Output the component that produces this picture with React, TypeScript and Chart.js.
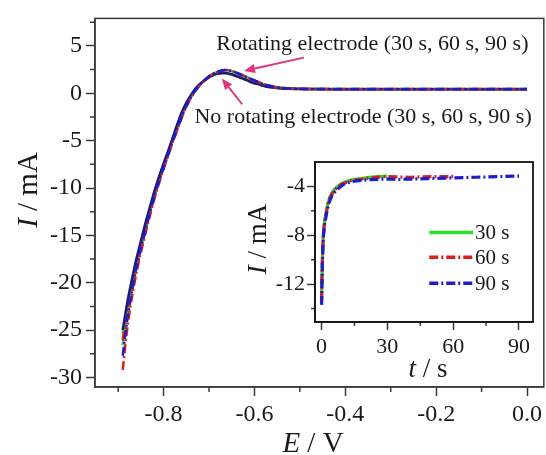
import React, { useEffect, useRef } from 'react';
import { Chart, registerables } from 'chart.js';

Chart.register(...registerables);

// ---- Main sweep: potential (V) vs current (mA) ----
const POTENTIAL = [
  -0.89, -0.88, -0.87, -0.86, -0.85, -0.84, -0.83, -0.82, -0.81, -0.8,
  -0.79, -0.78, -0.77, -0.76, -0.75, -0.74, -0.73, -0.72, -0.71, -0.7,
  -0.69, -0.68, -0.67, -0.66, -0.65, -0.64, -0.63, -0.62, -0.61, -0.6,
  -0.58, -0.56, -0.54, -0.52, -0.5, -0.45, -0.4, -0.3, -0.2, -0.1, 0.0,
];

// no rotation
const STILL_30 = [
  -25.4, -22.4, -19.9, -17.7, -15.8, -13.9, -12.1, -10.4, -8.9, -7.5,
  -6.2, -4.8, -3.4, -2.1, -1.1, -0.25, 0.42, 0.95, 1.35, 1.68,
  1.92, 2.08, 2.14, 2.1, 1.98, 1.82, 1.63, 1.43, 1.23, 1.06, 0.78, 0.6,
  0.5, 0.46, 0.44, 0.43, 0.42, 0.42, 0.42, 0.42, 0.42,
];
const STILL_60 = [
  -26.1, -22.8, -20.2, -17.9, -16.0, -14.1, -12.3, -10.6, -9.0, -7.6,
  -6.3, -4.9, -3.5, -2.2, -1.15, -0.3, 0.38, 0.92, 1.33, 1.66,
  1.9, 2.06, 2.12, 2.08, 1.96, 1.8, 1.61, 1.41, 1.21, 1.04, 0.77, 0.6,
  0.5, 0.46, 0.44, 0.43, 0.42, 0.42, 0.42, 0.42, 0.42,
];
const STILL_90 = [
  -25.0, -22.1, -19.7, -17.5, -15.6, -13.7, -12.0, -10.3, -8.8, -7.4,
  -6.1, -4.7, -3.3, -2.0, -1.0, -0.2, 0.46, 0.98, 1.38, 1.7,
  1.94, 2.1, 2.16, 2.12, 2.0, 1.84, 1.65, 1.45, 1.25, 1.08, 0.8, 0.62,
  0.51, 0.47, 0.45, 0.44, 0.43, 0.43, 0.43, 0.43, 0.43,
];

// with rotation
const ROT_30 = [
  -26.6, -23.4, -20.7, -18.3, -16.3, -14.4, -12.5, -10.8, -9.2, -7.8,
  -6.4, -5.0, -3.7, -2.4, -1.3, -0.4, 0.3, 0.88, 1.38, 1.78,
  2.07, 2.27, 2.4, 2.42, 2.33, 2.16, 1.96, 1.76, 1.54, 1.34, 0.96, 0.71,
  0.57, 0.5, 0.47, 0.45, 0.44, 0.44, 0.44, 0.44, 0.44,
];
const ROT_60 = [
  -29.2, -24.8, -21.6, -19.0, -16.8, -14.8, -12.9, -11.1, -9.5, -8.0,
  -6.6, -5.2, -3.9, -2.6, -1.45, -0.5, 0.25, 0.85, 1.35, 1.76,
  2.06, 2.28, 2.42, 2.46, 2.36, 2.18, 1.98, 1.78, 1.56, 1.36, 0.98, 0.72,
  0.58, 0.5, 0.47, 0.45, 0.44, 0.44, 0.44, 0.44, 0.44,
];
const ROT_90 = [
  -27.7, -23.9, -21.0, -18.5, -16.4, -14.5, -12.6, -10.9, -9.3, -7.9,
  -6.5, -5.1, -3.8, -2.5, -1.35, -0.45, 0.28, 0.88, 1.38, 1.79,
  2.09, 2.3, 2.43, 2.44, 2.34, 2.17, 1.97, 1.77, 1.55, 1.35, 0.97, 0.71,
  0.57, 0.5, 0.47, 0.45, 0.44, 0.44, 0.44, 0.44, 0.44,
];

const MAIN_X_TICKS = [-0.8, -0.6, -0.4, -0.2, 0.0];
const MAIN_X_MINOR = [-0.9, -0.7, -0.5, -0.3, -0.1];
const MAIN_Y_TICKS = [-30, -25, -20, -15, -10, -5, 0, 5];
const MAIN_Y_MINOR = [-27.5, -22.5, -17.5, -12.5, -7.5, -2.5, 2.5, 7.5];

// ---- Inset: chronoamperometry, time (s) vs current (mA) ----
const TIME_30 = [0, 0.3, 0.7, 1.2, 2, 3, 4.5, 6, 8, 10, 13, 16, 20, 25, 30];
const CURRENT_30 = [-13.3, -10.5, -8.3, -7.1, -6.2, -5.3, -4.6, -4.2, -3.9, -3.7, -3.5, -3.4, -3.3, -3.2, -3.15];
const TIME_60 = [0, 0.3, 0.7, 1.2, 2, 3, 4.5, 6, 8, 10, 13, 16, 20, 25, 30, 35, 40, 45, 50, 55, 60];
const CURRENT_60 = [-13.4, -10.6, -8.4, -7.2, -6.3, -5.4, -4.7, -4.3, -3.95, -3.75, -3.55, -3.45, -3.35, -3.25, -3.2, -3.22, -3.25, -3.22, -3.2, -3.2, -3.18];
const TIME_90 = [0, 0.3, 0.7, 1.2, 2, 3, 4.5, 6, 8, 10, 13, 16, 20, 25, 30, 35, 40, 45, 50, 60, 70, 80, 90];
const CURRENT_90 = [-13.7, -10.9, -8.6, -7.4, -6.5, -5.6, -4.85, -4.45, -4.1, -3.85, -3.65, -3.55, -3.47, -3.42, -3.4, -3.42, -3.4, -3.38, -3.35, -3.3, -3.25, -3.2, -3.15];

const INSET_X_TICKS = [0, 30, 60, 90];
const INSET_X_MINOR = [15, 45, 75];
const INSET_Y_TICKS = [-12, -8, -4];
const INSET_Y_MINOR = [-14, -10, -6];

const LEGEND_LABELS = ['30 s', '60 s', '90 s'];

const GREEN = '#2ee02e';
const RED = '#d42020';
const BLUE = '#1d1dcc';
const NAVY = '#1a1a80';
const ARROW = '#e0357e';
const AXIS = '#3a3a3a';
const TEXT = '#1a1a1a';
const FONT = '"Liberation Serif", "Times New Roman", serif';
const DASH_DOT = [9, 3, 2, 3];

type Seg = { text: string; italic?: boolean };

function drawRich(ctx: CanvasRenderingContext2D, segs: Seg[], x: number, y: number, size: number, align: 'left' | 'center') {
  const fonts = segs.map((s) => `${s.italic ? 'italic ' : ''}${size}px ${FONT}`);
  const widths = segs.map((s, i) => {
    ctx.font = fonts[i];
    return ctx.measureText(s.text).width;
  });
  const total = widths.reduce((a, b) => a + b, 0);
  let cx = align === 'center' ? x - total / 2 : x;
  ctx.textAlign = 'left';
  segs.forEach((s, i) => {
    ctx.font = fonts[i];
    ctx.fillText(s.text, cx, y);
    cx += widths[i];
  });
}

function minorTicks(chart: any, xs: number[], ys: number[], len: number) {
  const { ctx, chartArea, scales } = chart;
  ctx.save();
  ctx.strokeStyle = AXIS;
  ctx.lineWidth = 1.5;
  ctx.beginPath();
  xs.forEach((v) => {
    const px = scales.x.getPixelForValue(v);
    ctx.moveTo(px, chartArea.bottom);
    ctx.lineTo(px, chartArea.bottom + len);
  });
  ys.forEach((v) => {
    const py = scales.y.getPixelForValue(v);
    ctx.moveTo(chartArea.left, py);
    ctx.lineTo(chartArea.left - len, py);
  });
  ctx.stroke();
  ctx.restore();
}

function arrow(ctx: CanvasRenderingContext2D, x0: number, y0: number, x1: number, y1: number) {
  const ang = Math.atan2(y1 - y0, x1 - x0);
  const head = 11;
  const wid = 4.5;
  const bx = x1 - head * Math.cos(ang);
  const by = y1 - head * Math.sin(ang);
  ctx.strokeStyle = ARROW;
  ctx.fillStyle = ARROW;
  ctx.lineWidth = 2;
  ctx.beginPath();
  ctx.moveTo(x0, y0);
  ctx.lineTo(bx, by);
  ctx.stroke();
  ctx.beginPath();
  ctx.moveTo(x1, y1);
  ctx.lineTo(bx + wid * Math.sin(ang), by - wid * Math.cos(ang));
  ctx.lineTo(bx - wid * Math.sin(ang), by + wid * Math.cos(ang));
  ctx.closePath();
  ctx.fill();
}

const mainDecor = {
  id: 'mainDecor',
  afterDraw(chart: any) {
    const { ctx, chartArea, scales } = chart;
    const X = (v: number) => scales.x.getPixelForValue(v);
    const Y = (v: number) => scales.y.getPixelForValue(v);
    minorTicks(chart, MAIN_X_MINOR, MAIN_Y_MINOR, 5);
    ctx.save();
    // frame
    ctx.strokeStyle = AXIS;
    ctx.lineWidth = 1.5;
    ctx.strokeRect(chartArea.left, chartArea.top, chartArea.right - chartArea.left, chartArea.bottom - chartArea.top);
    // axis titles
    ctx.fillStyle = TEXT;
    ctx.textBaseline = 'alphabetic';
    drawRich(ctx, [{ text: 'E', italic: true }, { text: ' / V' }], 313, 452, 29, 'center');
    ctx.save();
    ctx.translate(37, 190);
    ctx.rotate(-Math.PI / 2);
    drawRich(ctx, [{ text: 'I', italic: true }, { text: ' / mA' }], 0, 0, 29, 'center');
    ctx.restore();
    // annotations
    ctx.font = `22px ${FONT}`;
    ctx.fillStyle = TEXT;
    ctx.textAlign = 'left';
    ctx.fillText('Rotating electrode (30 s, 60 s, 90 s)', X(-0.684), Y(4.61));
    ctx.fillText('No rotating electrode (30 s, 60 s, 90 s)', X(-0.732), Y(-3.09));
    arrow(ctx, X(-0.491), Y(3.76), X(-0.623), Y(2.36));
    arrow(ctx, X(-0.627), Y(-1.16), X(-0.672), Y(1.55));
    ctx.restore();
  },
};

const insetDecor = {
  id: 'insetDecor',
  beforeDraw(chart: any) {
    const { ctx, chartArea } = chart;
    ctx.save();
    ctx.fillStyle = '#ffffff';
    ctx.fillRect(chartArea.left, chartArea.top, chartArea.right - chartArea.left, chartArea.bottom - chartArea.top);
    ctx.restore();
  },
  afterDraw(chart: any) {
    const { ctx, chartArea, scales } = chart;
    const X = (v: number) => scales.x.getPixelForValue(v);
    const Y = (v: number) => scales.y.getPixelForValue(v);
    minorTicks(chart, INSET_X_MINOR, INSET_Y_MINOR, 4);
    ctx.save();
    ctx.strokeStyle = '#111';
    ctx.lineWidth = 1.8;
    ctx.strokeRect(chartArea.left, chartArea.top, chartArea.right - chartArea.left, chartArea.bottom - chartArea.top);
    // axis titles
    ctx.fillStyle = TEXT;
    ctx.textBaseline = 'alphabetic';
    drawRich(ctx, [{ text: 't', italic: true }, { text: ' / s' }], 428 - 230, 377 - 140, 27, 'center');
    ctx.save();
    ctx.translate(266 - 230, 239 - 140);
    ctx.rotate(-Math.PI / 2);
    drawRich(ctx, [{ text: 'I', italic: true }, { text: ' / mA' }], 0, 0, 27, 'center');
    ctx.restore();
    // legend
    const rows = [-7.77, -9.79, -11.92];
    const colors = [GREEN, RED, BLUE];
    const dashes = [[], DASH_DOT, DASH_DOT];
    rows.forEach((r, i) => {
      const y = Y(r);
      ctx.strokeStyle = colors[i];
      ctx.lineWidth = 3.5;
      ctx.setLineDash(dashes[i]);
      ctx.beginPath();
      ctx.moveTo(X(49.1), y);
      ctx.lineTo(X(69.1), y);
      ctx.stroke();
      ctx.setLineDash([]);
      ctx.fillStyle = TEXT;
      ctx.font = `21px ${FONT}`;
      ctx.textBaseline = 'middle';
      ctx.fillText(LEGEND_LABELS[i], X(70), y + 1);
    });
    ctx.restore();
  },
};

function series(xs: number[], ys: number[]) {
  return xs.map((x, i) => ({ x, y: ys[i] }));
}

function lineSet(data: any[], color: string, dash: number[], width = 2.5) {
  return {
    data,
    borderColor: color,
    borderWidth: width,
    borderDash: dash,
    pointRadius: 0,
    tension: 0.3,
    fill: false,
  };
}

function axis(min: number, max: number, ticks: number[], fmt: (v: number) => string, size: number, tl: number, pad: number, fit: (s: any) => void) {
  return {
    type: 'linear' as const,
    min,
    max,
    afterBuildTicks: (s: any) => {
      s.ticks = ticks.map((v) => ({ value: v }));
    },
    afterFit: fit,
    border: { display: true, color: AXIS, width: 1.5 },
    grid: { display: true, drawOnChartArea: false, drawTicks: true, tickLength: tl, tickWidth: 1.5, tickColor: AXIS, color: AXIS },
    ticks: {
      autoSkip: false,
      maxRotation: 0,
      padding: pad,
      color: TEXT,
      font: { family: FONT, size },
      callback: (v: any) => fmt(Number(v)),
    },
  };
}

export default function App() {
  const mainRef = useRef<HTMLCanvasElement>(null);
  const insetRef = useRef<HTMLCanvasElement>(null);

  useEffect(() => {
    // earlier datasets are painted on top
    const main = new Chart(mainRef.current!, {
      type: 'line',
      data: {
        datasets: [
          lineSet(series(POTENTIAL, ROT_90), BLUE, DASH_DOT),
          lineSet(series(POTENTIAL, ROT_60), RED, DASH_DOT),
          lineSet(series(POTENTIAL, STILL_90), NAVY, []),
          lineSet(series(POTENTIAL, STILL_60), RED, DASH_DOT),
          lineSet(series(POTENTIAL, STILL_30), GREEN, []),
          lineSet(series(POTENTIAL, ROT_30), GREEN, []),
        ],
      },
      options: {
        responsive: false,
        animation: false,
        devicePixelRatio: 1,
        layout: { padding: { left: 0, top: 16, right: 0, bottom: 0 } },
        plugins: { legend: { display: false }, tooltip: { enabled: false } },
        scales: {
          x: axis(-0.951, 0.037, MAIN_X_TICKS, (v) => v.toFixed(1), 24, 9, 4, (s) => { s.height = 68; }),
          y: axis(-31, 7.9, MAIN_Y_TICKS, (v) => String(v), 24, 9, 4, (s) => { s.width = 95; }),
        },
      },
      plugins: [mainDecor],
    });

    const inset = new Chart(insetRef.current!, {
      type: 'line',
      data: {
        datasets: [
          { ...lineSet(series(TIME_90, CURRENT_90), BLUE, DASH_DOT, 3.2), cubicInterpolationMode: 'monotone' as const },
          { ...lineSet(series(TIME_60, CURRENT_60), RED, DASH_DOT, 3.2), cubicInterpolationMode: 'monotone' as const },
          { ...lineSet(series(TIME_30, CURRENT_30), GREEN, [], 3.2), cubicInterpolationMode: 'monotone' as const },
        ],
      },
      options: {
        responsive: false,
        animation: false,
        devicePixelRatio: 1,
        layout: { padding: { left: 0, top: 22, right: 13, bottom: 0 } },
        plugins: { legend: { display: false }, tooltip: { enabled: false } },
        scales: {
          x: axis(-3, 96.4, INSET_X_TICKS, (v) => String(v), 22, 8, 4, (s) => { s.height = 68; }),
          y: axis(-15.1, -2, INSET_Y_TICKS, (v) => String(v), 22, 8, 2, (s) => { s.width = 85; }),
        },
      },
      plugins: [insetDecor],
    });

    return () => {
      main.destroy();
      inset.destroy();
    };
  }, []);

  return (
    <div style={{ position: 'fixed', left: 0, top: 0, width: 546, height: 455, background: '#fff', overflow: 'hidden' }}>
      <canvas ref={mainRef} width={546} height={455} style={{ position: 'absolute', left: 0, top: 0 }} />
      <canvas ref={insetRef} width={316} height={250} style={{ position: 'absolute', left: 230, top: 140 }} />
    </div>
  );
}
